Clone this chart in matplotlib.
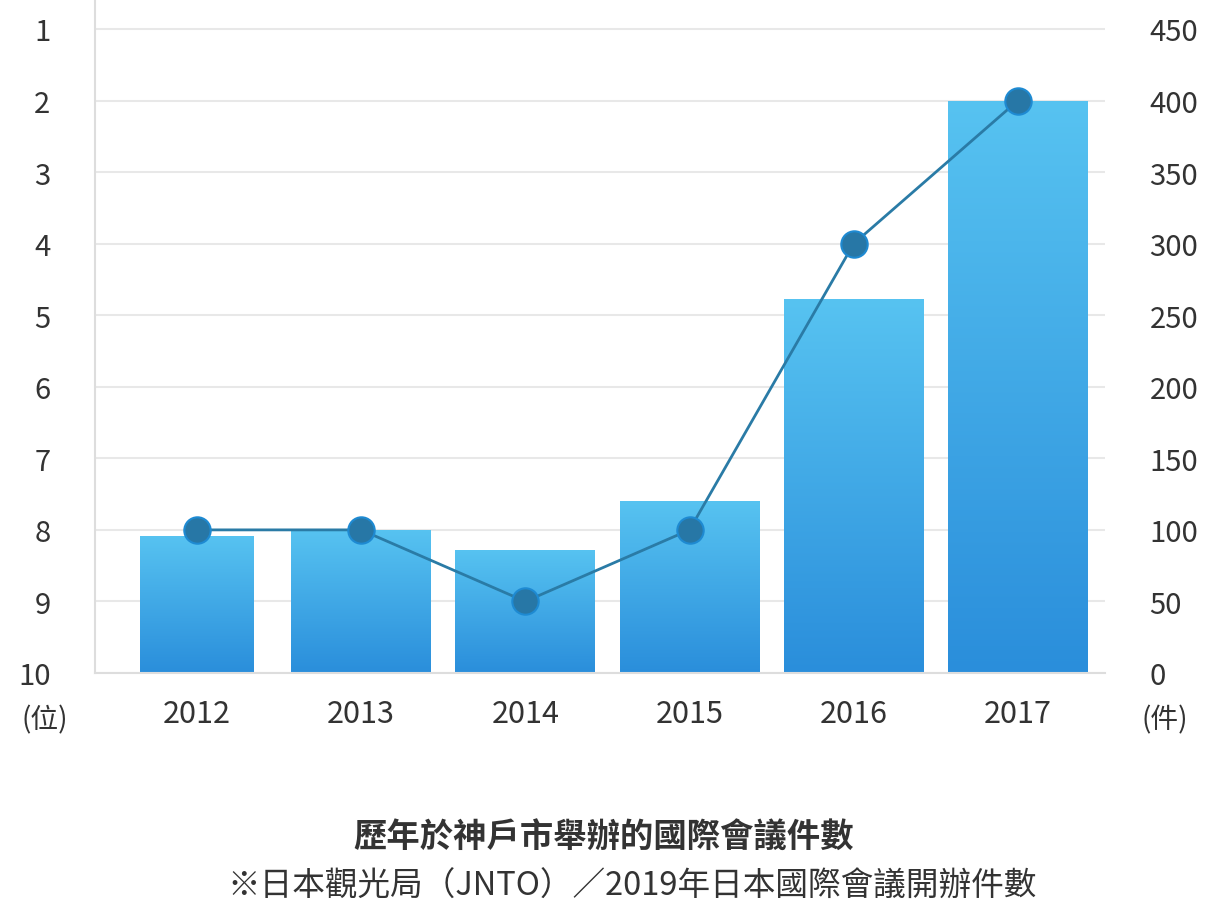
import matplotlib
matplotlib.use("Agg")
import matplotlib.pyplot as plt
import numpy as np
from matplotlib.colors import LinearSegmentedColormap

plt.rcParams['font.family'] = ['Noto Sans CJK TC', 'DejaVu Sans']

years = ['2012', '2013', '2014', '2015', '2016', '2017']
counts = [96, 100, 86, 120, 261, 400]
ranks = [8, 8, 9, 8, 4, 2]
bar_widths = [0.69, 0.85, 0.85, 0.85, 0.85, 0.85]
count_ticks = [0, 50, 100, 150, 200, 250, 300, 350, 400, 450]
rank_ticks = [1, 2, 3, 4, 5, 6, 7, 8, 9, 10]

fig = plt.figure(figsize=(12.12, 9.04), dpi=100)
ax = fig.add_axes([95/1212, 1-674/904, 1010/1212, 674/904])
x = np.arange(len(years))
ymax = 450 * 674 / 644

cmap = LinearSegmentedColormap.from_list('g', ['#2A8EDB', '#57C3F1'])
bars = ax.bar(x, counts, width=bar_widths, color='none', zorder=2)
grad = np.linspace(0, 1, 256).reshape(-1, 1)
for b in bars:
    x0, y0, w, h = b.get_x(), b.get_y(), b.get_width(), b.get_height()
    im = ax.imshow(grad, cmap=cmap, aspect='auto', origin='lower',
                   extent=[x0, x0 + w, y0, y0 + h], zorder=2)
    im.set_clip_path(b)
ax.set_xlim(-0.62, 5.53)
ax.set_ylim(0, ymax)

ax.set_yticks(count_ticks)
ax.grid(axis='y', color='#e8e8e8', linewidth=1.5, zorder=0)
ax.set_axisbelow(True)
ax.set_xticks(x)
ax.set_xticklabels(years, fontweight='medium')
ax.tick_params(axis='x', length=0, labelsize=22, colors='#333333', pad=18)
for s in ['top', 'right']:
    ax.spines[s].set_visible(False)
ax.spines['left'].set_color('#dddddd')
ax.spines['left'].set_linewidth(1.5)
ax.spines['bottom'].set_color('#dddddd')
ax.spines['bottom'].set_linewidth(1.5)

ax2 = ax.twinx()
ax2.set_position(ax.get_position())
r_per_px = 9 / 644
ax2.set_ylim(10, 1 - 30 * r_per_px)
ax2.set_yticks(rank_ticks)
for s in ax2.spines.values():
    s.set_visible(False)

# tick sides after twinx
ax.yaxis.tick_right()
ax.yaxis.set_label_position('right')
ax.tick_params(axis='y', length=0, labelsize=21, colors='#333333', pad=32,
               left=False, labelleft=False, right=False, labelright=True)
ax2.yaxis.tick_left()
ax2.tick_params(axis='y', length=0, labelsize=21, colors='#333333', pad=32,
                right=False, labelright=False, labelleft=True)
for lab in ax.get_yticklabels() + ax2.get_yticklabels():
    lab.set_fontweight('medium')

ax2.plot(x, ranks, color='#2A7BA6', linewidth=2, marker='o', markersize=19,
         markerfacecolor='#2777A6', markeredgecolor='#1E8AD2', markeredgewidth=1.5, zorder=5)

fig.text(45/1212, 1-720/904, '(位)', ha='center', va='center', fontsize=20, color='#333333')
fig.text(1165/1212, 1-720/904, '(件)', ha='center', va='center', fontsize=20, color='#333333')
fig.text(604/1212, 1-838/904, '歷年於神戶市舉辦的國際會議件數', ha='center', va='center',
         fontsize=24, fontweight='bold', color='#333333')
fig.text(632/1212, 1-887/904, '※日本觀光局（JNTO）／2019年日本國際會議開辦件數', ha='center', va='center',
         fontsize=23.5, color='#333333')

fig.savefig('out.png', dpi=100)
